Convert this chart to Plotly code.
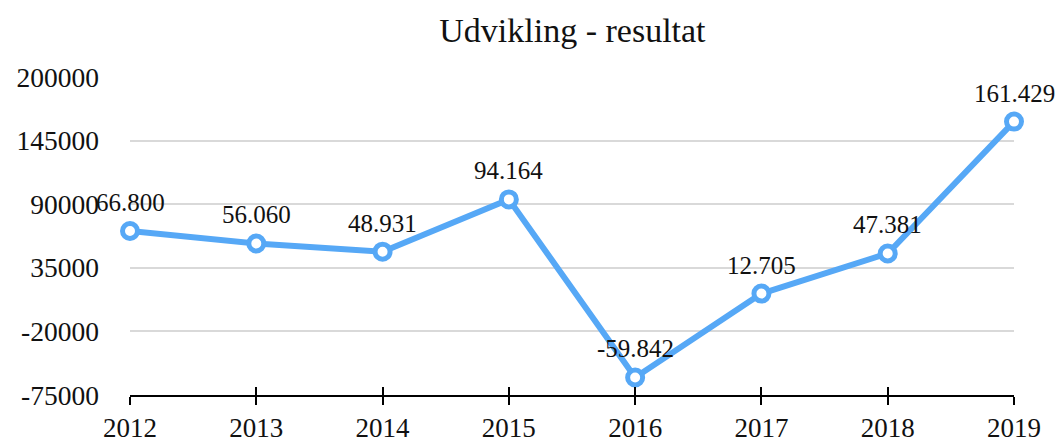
import plotly.graph_objects as go

years = ["2012", "2013", "2014", "2015", "2016", "2017", "2018", "2019"]
values = [66800, 56060, 48931, 94164, -59842, 12705, 47381, 161429]
labels = ["66.800", "56.060", "48.931", "94.164", "-59.842", "12.705", "47.381", "161.429"]
y_ticks = [-75000, -20000, 35000, 90000, 145000, 200000]

FONT = "Liberation Serif"
BLUE = "#56A8F6"

fig = go.Figure()
fig.add_trace(go.Scatter(
    x=years, y=values, mode="lines+markers",
    line=dict(color=BLUE, width=6),
    marker=dict(size=15, color="white", line=dict(color=BLUE, width=5)),
    cliponaxis=False, showlegend=False,
))
# invisible trace on overlay axis for the crossing tick marks
fig.add_trace(go.Scatter(x=years, y=values, xaxis="x2", mode="none",
                         showlegend=False, hoverinfo="skip"))

# data labels placed from the data arrays (category index on the x axis)
for i, (v, lab) in enumerate(zip(values, labels)):
    fig.add_annotation(x=i, y=v, xref="x", yref="y", text=lab, showarrow=False,
                       xanchor="center", yanchor="bottom", yshift=13,
                       font=dict(family=FONT, size=25, color="#111111"))

fig.update_layout(
    width=1062, height=441,
    margin=dict(l=130, r=48, t=77, b=46, autoexpand=False),
    paper_bgcolor="white", plot_bgcolor="white",
    title=dict(text="Udvikling - resultat", x=0.539, xanchor="center", y=0.932, yanchor="middle",
               font=dict(family=FONT, size=34, color="#111111")),
    xaxis=dict(type="category", range=[0, 7], showgrid=False, automargin=False,
               showline=True, linecolor="black", linewidth=2,
               ticks="outside", ticklen=8, tickwidth=2, tickcolor="black",
               tickfont=dict(family=FONT, size=27, color="#111111"),
               ticklabelstandoff=0, zeroline=False),
    xaxis2=dict(type="category", range=[0, 7], overlaying="x", matches="x", automargin=False,
                showgrid=False, showline=False, ticks="inside", ticklen=8,
                tickwidth=2, tickcolor="black", showticklabels=False, side="bottom"),
    yaxis=dict(range=[-75000, 200000], tickvals=y_ticks, automargin=False,
               ticktext=[str(v) for v in y_ticks],
               showgrid=True, gridcolor="#D9D9D9", gridwidth=1.5,
               zeroline=False, showline=False, ticks="",
               tickfont=dict(family=FONT, size=27.5, color="#111111"),
               ticklabelstandoff=30),
)

fig.write_html("out.html", config={"displayModeBar": False},
               post_script="document.body.style.margin='0';document.body.style.overflow='hidden';")
